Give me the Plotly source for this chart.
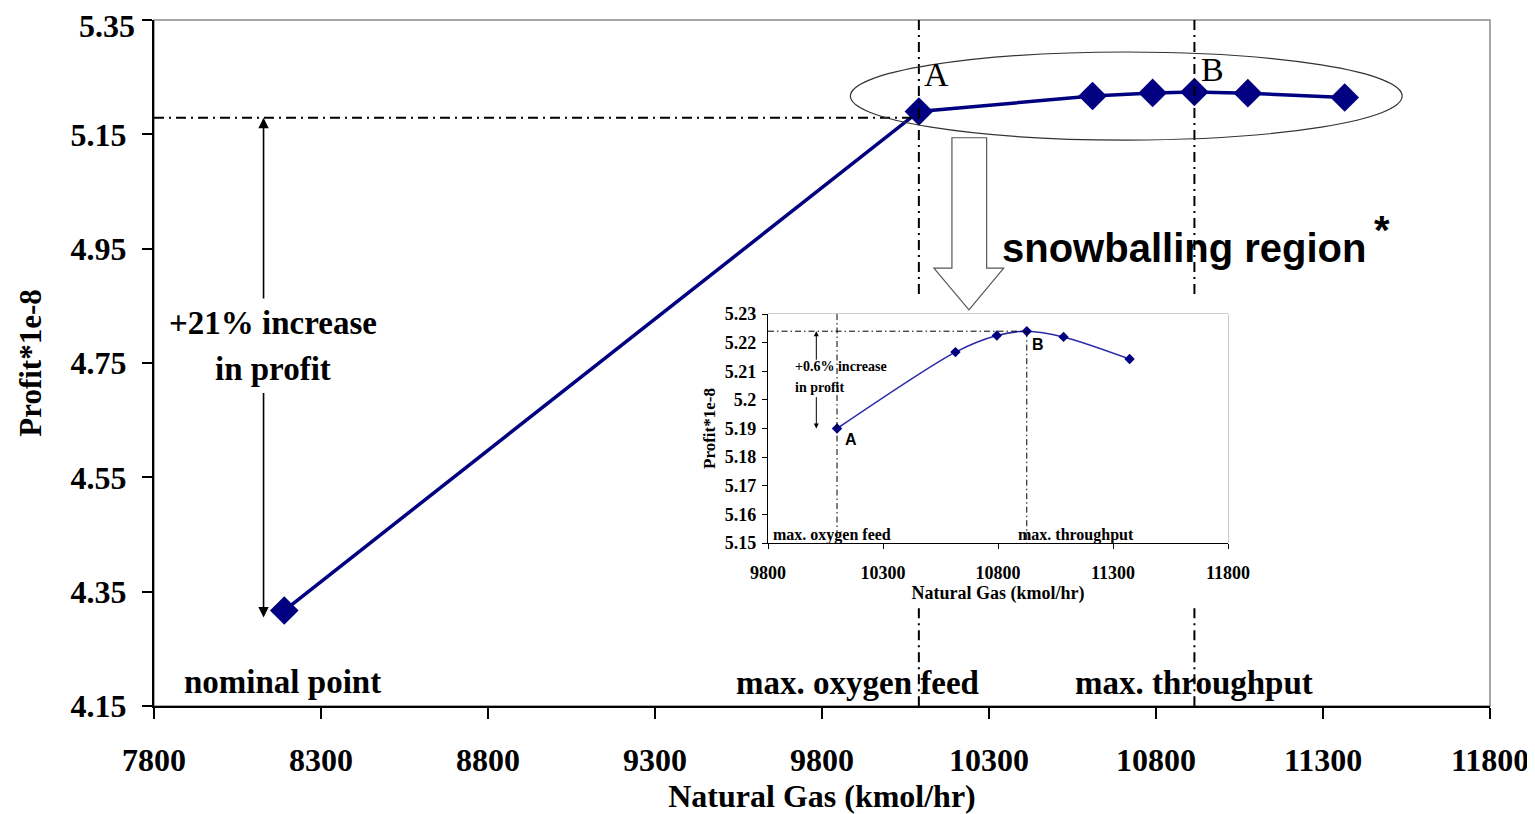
import plotly.graph_objects as go

# ---------------- data ----------------
main_gas = [8190, 10090, 10610, 10790, 10915, 11075, 11365]
main_profit = [4.317, 5.190, 5.217, 5.2225, 5.224, 5.222, 5.2145]

inset_gas = [10100, 10615, 10795, 10925, 11085, 11372]
inset_profit = [5.190, 5.2167, 5.2225, 5.224, 5.222, 5.2143]

main_xticks = [7800, 8300, 8800, 9300, 9800, 10300, 10800, 11300, 11800]
main_xtext = ["7800", "8300", "8800", "9300", "9800", "10300", "10800", "11300", "11800"]
main_yticks = [4.15, 4.35, 4.55, 4.75, 4.95, 5.15, 5.35]
main_ytext = ["4.15", "4.35", "4.55", "4.75", "4.95", "5.15", "5.35"]

inset_xticks = [9800, 10300, 10800, 11300, 11800]
inset_xtext = ["9800", "10300", "10800", "11300", "11800"]
inset_yticks = [5.15, 5.16, 5.17, 5.18, 5.19, 5.2, 5.21, 5.22, 5.23]
inset_ytext = ["5.15", "5.16", "5.17", "5.18", "5.19", "5.2", "5.21", "5.22", "5.23"]

# reference levels
max_oxygen_x = 10090
max_through_x = 10915
profit_A_level = 5.179
arrow_x = 8128
arrow_bottom = 4.305

SERIF = "Liberation Serif"
SANS = "Liberation Sans"
NAVY = "#000080"
INSET_BLUE = "#2a2aa8"
DASH = "10px,5px,2px,5px"

fig = go.Figure()

fig.add_trace(go.Scatter(
    x=main_gas, y=main_profit, mode="lines+markers",
    line=dict(color=NAVY, width=3.5),
    marker=dict(symbol="diamond", size=22, color=NAVY),
    showlegend=False, hoverinfo="x+y"))

fig.add_trace(go.Scatter(
    x=inset_gas, y=inset_profit, mode="lines+markers",
    xaxis="x2", yaxis="y2",
    line=dict(color=INSET_BLUE, width=1.6, shape="spline", smoothing=0.8),
    marker=dict(symbol="diamond", size=8, color=NAVY),
    showlegend=False, hoverinfo="x+y"))

bold_serif = lambda s: dict(family=SERIF, size=s, color="black", weight="bold")

# top tick label would be hidden at the figure edge -> draw it as an annotation
ytext_axis = main_ytext[:-1] + [""]

# the page body adds an 8px margin, so the figure is shrunk by 8px on each axis
fig.update_layout(
    width=1527, height=806,
    margin=dict(l=146, r=45, t=12, b=108),
    paper_bgcolor="white", plot_bgcolor="white",
    xaxis=dict(range=[7800, 11800], tickvals=main_xticks, ticktext=main_xtext,
               ticks="outside", ticklen=11, tickwidth=1.5, tickcolor="black",
               showline=True, linecolor="black", linewidth=2,
               showgrid=False, zeroline=False, automargin=False,
               tickfont=bold_serif(32), ticklabelstandoff=14,
               title=dict(text="Natural Gas (kmol/hr)", font=bold_serif(32), standoff=2)),
    yaxis=dict(range=[4.15, 5.35], tickvals=main_yticks, ticktext=ytext_axis,
               ticks="outside", ticklen=10, tickwidth=1.5, tickcolor="black",
               showline=True, linecolor="black", linewidth=2,
               showgrid=False, zeroline=False, automargin=False,
               tickfont=bold_serif(32), ticklabelstandoff=9,
               title=dict(text="Profit*1e-8", font=bold_serif(31), standoff=20)),
    xaxis2=dict(domain=[0.4596, 0.8039], anchor="y2", range=[9800, 11800],
                tickvals=inset_xticks, ticktext=inset_xtext,
                ticks="outside", ticklen=5, tickwidth=1, tickcolor="black",
                showline=True, linecolor="black", linewidth=1.2,
                showgrid=False, zeroline=False, automargin=False,
                tickfont=bold_serif(18), ticklabelstandoff=8,
                title=dict(text="Natural Gas (kmol/hr)", font=bold_serif(18), standoff=0)),
    yaxis2=dict(domain=[0.2376, 0.5714], anchor="x2", range=[5.15, 5.23],
                tickvals=inset_yticks, ticktext=inset_ytext,
                ticks="outside", ticklen=5, tickwidth=1, tickcolor="black",
                showline=True, linecolor="black", linewidth=1.2,
                showgrid=False, zeroline=False, automargin=False,
                tickfont=bold_serif(18), ticklabelstandoff=2,
                title=dict(text="Profit*1e-8", font=bold_serif(17), standoff=4)),
)

shapes = []
# frames (gray top/right)
shapes.append(dict(type="rect", xref="paper", yref="paper", x0=0, x1=1, y0=0, y1=1,
                   line=dict(color="#8a8a8a", width=1.5), layer="below"))
shapes.append(dict(type="rect", xref="x2 domain", yref="y2 domain", x0=0, x1=1, y0=0, y1=1,
                   line=dict(color="#9a9a9a", width=1), layer="below"))

# main dash-dot reference lines (broken by the inset)
inset_gap_top = 4.865
inset_gap_bottom = 4.321
for xv in (max_oxygen_x, max_through_x):
    shapes.append(dict(type="line", xref="x", yref="y", x0=xv, x1=xv, y0=5.35, y1=inset_gap_top,
                       line=dict(color="black", width=2, dash=DASH)))
    shapes.append(dict(type="line", xref="x", yref="y", x0=xv, x1=xv, y0=inset_gap_bottom, y1=4.15,
                       line=dict(color="black", width=2, dash=DASH)))
shapes.append(dict(type="line", xref="x", yref="y", x0=7800, x1=max_oxygen_x,
                   y0=profit_A_level, y1=profit_A_level,
                   line=dict(color="black", width=2, dash=DASH)))

# ellipse around snowballing region
shapes.append(dict(type="circle", xref="x", yref="y", x0=9885, x1=11537, y0=5.140, y1=5.294,
                   line=dict(color="#333333", width=1.2)))

# hollow down arrow
shaft_l, shaft_r, head_l, head_r, tip_x = 10189, 10293, 10135, 10344, 10240
y_top, y_shaft, y_tip = 5.144, 4.916, 4.843
path = (f"M {shaft_l},{y_top} L {shaft_l},{y_shaft} L {head_l},{y_shaft} L {tip_x},{y_tip} "
        f"L {head_r},{y_shaft} L {shaft_r},{y_shaft} L {shaft_r},{y_top} Z")
shapes.append(dict(type="path", xref="x", yref="y", path=path,
                   fillcolor="white", line=dict(color="#555555", width=1.2), layer="above"))

# inset dash-dot lines
B_x, B_y = inset_gas[3], inset_profit[3]
IDASH = "6px,3px,1.5px,3px"
shapes.append(dict(type="line", xref="x2", yref="y2", x0=inset_gas[0], x1=inset_gas[0], y0=5.23, y1=5.15,
                   line=dict(color="black", width=1, dash=IDASH)))
shapes.append(dict(type="line", xref="x2", yref="y2", x0=B_x, x1=B_x, y0=B_y, y1=5.15,
                   line=dict(color="black", width=1, dash=IDASH)))
shapes.append(dict(type="line", xref="x2", yref="y2", x0=9800, x1=B_x, y0=B_y, y1=B_y,
                   line=dict(color="black", width=1, dash=IDASH)))
fig.update_layout(shapes=shapes)

ann = []
def txt(x, y, s, font, xref="x", yref="y", xanchor="center", yanchor="middle", xshift=0, yshift=0):
    ann.append(dict(x=x, y=y, xref=xref, yref=yref, text=s, showarrow=False,
                    font=font, xanchor=xanchor, yanchor=yanchor, xshift=xshift, yshift=yshift))

# top y tick label
txt(0, main_yticks[-1], main_ytext[-1], bold_serif(32), xref="paper", xanchor="right",
    xshift=-17, yshift=-6)

txt(8185, 4.192, "nominal point", bold_serif(33))
txt(9906, 4.190, "max. oxygen feed", bold_serif(33))
txt(10914, 4.190, "max. throughput", bold_serif(33))
txt(8155, 4.820, "+21% increase", bold_serif(33))
txt(8155, 4.740, "in profit", bold_serif(33))
txt(10144, 5.254, "A", dict(family=SERIF, size=34, color="black"))
txt(10970, 5.263, "B", dict(family=SERIF, size=34, color="black"))
txt(10884, 4.951, "snowballing region", dict(family=SANS, size=40, color="black", weight="bold"))
txt(11478, 4.982, "*", dict(family=SANS, size=40, color="black", weight="bold"))

# inset texts
txt(9812, 5.1528, "max. oxygen feed", bold_serif(16), xref="x2", yref="y2", xanchor="left")
txt(10880, 5.1528, "max. throughput", bold_serif(16), xref="x2", yref="y2", xanchor="left")
txt(10160, 5.1863, "A", dict(family=SANS, size=16, color="black", weight="bold"), xref="x2", yref="y2")
txt(10975, 5.2195, "B", dict(family=SANS, size=16, color="black", weight="bold"), xref="x2", yref="y2")
txt(9910, 5.2115, "+0.6% increase", bold_serif(14), xref="x2", yref="y2", xanchor="left")
txt(9910, 5.2045, "in profit", bold_serif(14), xref="x2", yref="y2", xanchor="left")

# arrows
def arrow(x, y_from, y_to, xref="x", yref="y", size=1.3, width=1.6):
    ann.append(dict(x=x, y=y_to, ax=x, ay=y_from, xref=xref, yref=yref,
                    axref=xref, ayref=yref, text="", showarrow=True,
                    arrowhead=2, arrowsize=size, arrowwidth=width, arrowcolor="black"))

arrow(arrow_x, 4.86, profit_A_level)
arrow(arrow_x, 4.70, arrow_bottom)
arrow(10010, 5.2135, B_y, xref="x2", yref="y2", size=1, width=1)
arrow(10010, 5.2015, 5.190, xref="x2", yref="y2", size=1, width=1)

fig.update_layout(annotations=ann)

fig.write_html("out.html")
